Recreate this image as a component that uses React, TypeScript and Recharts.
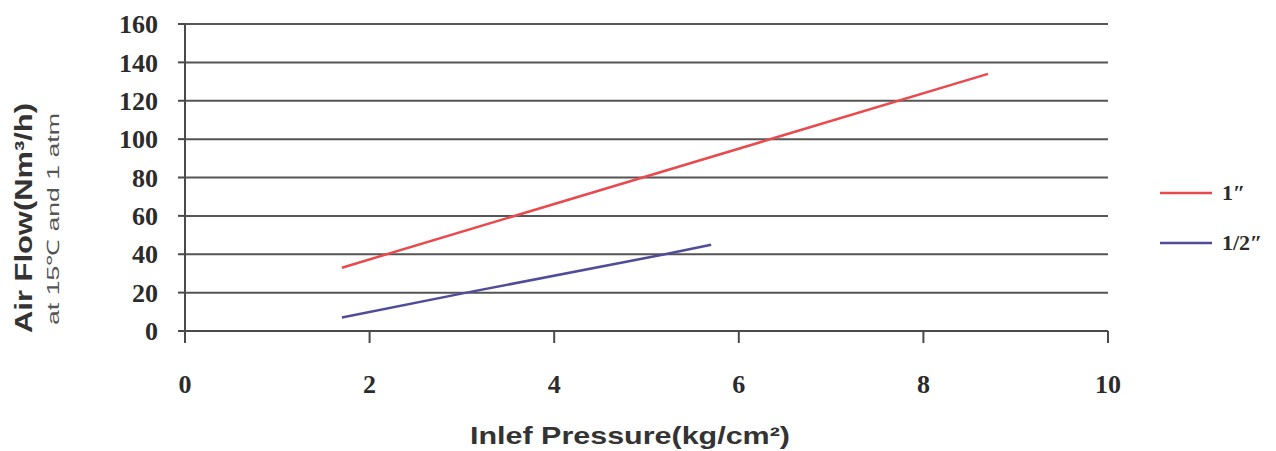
import React from 'react';
import { LineChart, Line, XAxis, YAxis, CartesianGrid, Legend } from 'recharts';

// values
const PRESSURE_TICKS = [0, 2, 4, 6, 8, 10];
const FLOW_TICKS = [0, 20, 40, 60, 80, 100, 120, 140, 160];

const ONE_INCH = [
    { p: 1.7, q: 33 },
    { p: 8.7, q: 134 },
];

const HALF_INCH = [
    { p: 1.7, q: 7 },
    { p: 3.05, q: 20 },
    { p: 5.2, q: 40 },
    { p: 5.7, q: 45 },
];

const SERIES = [
    { name: '1″', data: ONE_INCH, color: '#e84a4e' },
    { name: '1/2″', data: HALF_INCH, color: '#4f4d98' },
];

const TICK_STYLE = { fill: '#2b2b2b', fontSize: 26, fontWeight: 700, fontFamily: '"Liberation Serif", serif' };
const AXIS_COLOR = '#4a4a4a';

// titel sumbu Y: dua baris, diputar
const YTitle = () => (
    <g>
        <text
            transform="translate(32,218) rotate(-90)"
            textAnchor="middle"
            fontFamily='"Liberation Sans", Arial, sans-serif'
            fontWeight={700}
            fontSize={24}
            fill="#333"
            textLength={230}
            lengthAdjust="spacingAndGlyphs"
        >
            Air Flow(Nm³/h)
        </text>
        <text
            transform="translate(59,219) rotate(-90)"
            textAnchor="middle"
            fontFamily='"Liberation Sans", Arial, sans-serif'
            fontSize={17}
            fill="#555"
            textLength={212}
            lengthAdjust="spacingAndGlyphs"
        >
            at 15℃ and 1 atm
        </text>
    </g>
);

const XTitle = () => (
    <text
        x={630}
        y={444}
        textAnchor="middle"
        fontFamily='"Liberation Sans", Arial, sans-serif'
        fontWeight={700}
        fontSize={24}
        fill="#333"
        textLength={320}
        lengthAdjust="spacingAndGlyphs"
    >
        Inlef Pressure(kg/cm²)
    </text>
);

// urutan legenda mengikuti SERIES, bukan urutan abjad
const LegendBox = (props: any) => {
    const items = [...(props.payload || [])].sort(
        (a: any, b: any) => SERIES.findIndex(s => s.name === a.value) - SERIES.findIndex(s => s.name === b.value)
    );
    return (
        <div>
            {items.map((it: any) => (
                <div key={it.value} style={{ display: 'flex', alignItems: 'center', height: 50 }}>
                    <svg width={52} height={4} style={{ marginRight: 10 }}>
                        <line x1={0} y1={2} x2={52} y2={2} stroke={it.color} strokeWidth={2.5} />
                    </svg>
                    <span style={{ ...TICK_STYLE, color: '#2b2b2b', fontSize: 22 }}>{it.value}</span>
                </div>
            ))}
        </div>
    );
};

export default function App() {
    return (
        <div style={{ position: 'absolute', left: 0, top: 0, width: 1276, height: 451, background: '#fff' }}>
            <LineChart width={1276} height={451} margin={{ top: 24, right: 168, left: 0, bottom: 0 }}>
                <CartesianGrid vertical={false} stroke="#555" strokeWidth={2} />
                <XAxis
                    type="number"
                    dataKey="p"
                    domain={[0, 10]}
                    ticks={PRESSURE_TICKS}
                    height={120}
                    tickSize={12}
                    tickMargin={32}
                    tick={TICK_STYLE}
                    stroke={AXIS_COLOR}
                    strokeWidth={2}
                    label={<XTitle />}
                />
                <YAxis
                    type="number"
                    domain={[0, 160]}
                    ticks={FLOW_TICKS}
                    width={185}
                    tickSize={7}
                    tickMargin={20}
                    tick={TICK_STYLE}
                    stroke={AXIS_COLOR}
                    strokeWidth={2}
                    label={<YTitle />}
                />
                <Legend
                    layout="vertical"
                    align="center"
                    verticalAlign="middle"
                    wrapperStyle={{ left: 1160, top: 168, width: 116, height: 100 }}
                    content={<LegendBox />}
                />
                {SERIES.map(s => (
                    <Line
                        key={s.name}
                        name={s.name}
                        data={s.data}
                        dataKey="q"
                        stroke={s.color}
                        strokeWidth={2.5}
                        dot={false}
                        isAnimationActive={false}
                    />
                ))}
            </LineChart>
        </div>
    );
}
